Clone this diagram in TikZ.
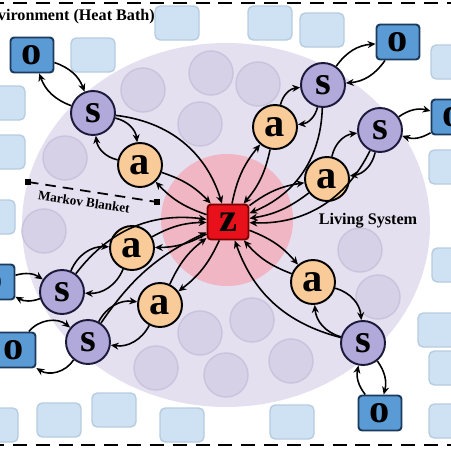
\documentclass[tikz,border=0pt]{standalone}
\usepackage{fontspec}
\setmainfont{Liberation Serif}
\usetikzlibrary{arrows.meta}

\definecolor{sysfill}{HTML}{E4E0F0}
\definecolor{blobfill}{HTML}{D7D1E8}
\definecolor{blobline}{HTML}{CAC3DD}
\definecolor{corefill}{HTML}{F0B6C4}
\definecolor{boxfill}{HTML}{CFE2F3}
\definecolor{boxline}{HTML}{B7CCE0}
\definecolor{sfill}{HTML}{B1A9D9}
\definecolor{sline}{HTML}{1C1A3A}
\definecolor{afill}{HTML}{F9CB98}
\definecolor{ofill}{HTML}{5B9BD5}
\definecolor{oline}{HTML}{1B3A5C}
\definecolor{zfill}{HTML}{E8101A}
\definecolor{zline}{HTML}{7A0000}

\tikzset{
  letter/.style={inner sep=0pt, line width=1.1pt, font=\fontsize{23}{23}\selectfont\bfseries},
  snode/.style={letter, circle, draw=sline, fill=sfill, minimum size=0.88cm},
  anode/.style={letter, circle, draw=black, fill=afill, minimum size=0.88cm},
  onode/.style={letter, rectangle, rounded corners=2pt, draw=oline, fill=ofill, minimum width=0.86cm, minimum height=0.70cm},
  znode/.style={letter, rectangle, rounded corners=2pt, draw=zline, fill=zfill, minimum width=0.82cm, minimum height=0.70cm},
  link/.style={-{Stealth[length=4.5pt,width=4pt]}, line width=0.9pt},
  bgbox/.style={fill=boxfill, draw=boxline, line width=0.8pt, rounded corners=3pt},
  blob/.style={fill=blobfill, draw=blobline, line width=0.8pt},
  frame/.style={dashed, dash pattern=on 8pt off 5pt, line width=1.2pt}
}

\begin{document}
\begin{tikzpicture}[x=0.02cm, y=-0.02cm]
  \useasboundingbox (0,0) rectangle (450,450);

  % Environment boxes
  \foreach \bx/\by in {93/55, 177/23, 270/23, 322/30, 453/62, 451/167, 454/265, 440/330,
      451/368, 451/421, 292/422, 182/425, 114/410, 59/420, -4/425, -7/217, 3/152, 3/103}
    \draw[bgbox] (\bx-22,\by-17) rectangle (\bx+22,\by+17);

  % Living system
  \fill[sysfill] (226,225) ellipse [x radius=204, y radius=182];
  \foreach \cx/\cy in {143/90, 211/73, 258/84, 200/124, 65/158, 44/231, 156/368, 200/333,
      226/375, 252/320, 291/361, 360/250, 378/297}
    \draw[blob] (\cx,\cy) circle [radius=22];
  \fill[corefill] (227,220) circle [radius=66];

  % Frame
  \draw[frame] (-10,3) -- (460,3);
  \draw[frame] (-10,445) -- (460,445);

  % Labels
  \node[anchor=west, font=\fontsize{9.2}{10}\selectfont\bfseries] (envlabel) at (-28,17) {Environment (Heat Bath)};
  \node[font=\fontsize{9.2}{10}\selectfont\bfseries] (livlabel) at (368,221) {Living System};

  % Markov blanket
  \coordinate (mb1) at (28,182);
  \coordinate (mb2) at (157,202);
  \draw[dashed, dash pattern=on 6pt off 4pt, line width=1pt] (mb1) -- (mb2);
  \fill (mb1) ++(-3,-3) rectangle ++(6,6);
  \fill (mb2) ++(-3,-3) rectangle ++(6,6);
  \node[rotate=-8.8, font=\fontsize{7.5}{8}\selectfont\bfseries] (mblabel) at (84,202) {Markov Blanket};

  % Nodes
  \node[znode] (z) at (228,222) {z};

  \node[onode] (o1) at (32,55) {o};
  \node[snode] (s1) at (93,113) {s};
  \node[anode] (a1) at (140,165) {a};

  \node[onode] (o2) at (398,42) {o};
  \node[snode] (s2) at (323,85) {s};
  \node[anode] (a2) at (275,127) {a};

  \node[onode] (o3) at (453,117) {o};
  \node[snode] (s3) at (380,130) {s};
  \node[anode] (a3) at (327,179) {a};

  \node[onode] (o4) at (-7,282) {o};
  \node[snode] (s4) at (62,292) {s};
  \node[anode] (a4) at (132,248) {a};

  \node[onode] (o5) at (14,350) {o};
  \node[snode] (s5) at (88,342) {s};
  \node[anode] (a5) at (160,305) {a};

  \node[anode] (a6) at (313,282) {a};
  \node[snode] (s6) at (363,343) {s};
  \node[onode] (o6) at (380,413) {o};

  % Arrows
  \draw[link] (o1) to[bend left=25] (s1);  \draw[link] (s1) to[bend left=25] (o1);
  \draw[link] (s1) to[bend left=35] (a1);  \draw[link] (a1) to[bend left=35] (s1);
  \draw[link] (a1) to[bend left=14] (z);   \draw[link] (z) to[bend left=14] (a1);
  \draw[link] (s1) to[bend left=33] (z);

  \draw[link] (o2) to[bend left=25] (s2);  \draw[link] (s2) to[bend left=25] (o2);
  \draw[link] (s2) to[bend left=35] (a2);  \draw[link] (a2) to[bend left=35] (s2);
  \draw[link] (a2) to[bend left=14] (z);   \draw[link] (z) to[bend left=14] (a2);
  \draw[link] (s2) to[bend left=33] (z);

  \draw[link] (o3) to[bend left=25] (s3);  \draw[link] (s3) to[bend left=25] (o3);
  \draw[link] (s3) to[bend left=35] (a3);  \draw[link] (a3) to[bend left=35] (s3);
  \draw[link] (a3) to[bend left=14] (z);   \draw[link] (z) to[bend left=14] (a3);
  \draw[link] (s3) to[bend left=33] (z);

  \draw[link] (o4) to[bend left=25] (s4);  \draw[link] (s4) to[bend left=25] (o4);
  \draw[link] (s4) to[bend left=35] (a4);  \draw[link] (a4) to[bend left=35] (s4);
  \draw[link] (a4) to[bend left=14] (z);   \draw[link] (z) to[bend left=14] (a4);
  \draw[link] (s4) to[bend left=30] (z);

  \draw[link] (o5) to[bend left=45] (s5);  \draw[link] (s5) to[bend left=45] (o5);
  \draw[link] (s5) to[bend left=35] (a5);  \draw[link] (a5) to[bend left=35] (s5);
  \draw[link] (a5) to[bend left=14] (z);   \draw[link] (z) to[bend left=14] (a5);
  \draw[link] (s5) to[bend left=15] (z);

  \draw[link] (o6) to[bend left=25] (s6);  \draw[link] (s6) to[bend left=25] (o6);
  \draw[link] (s6) to[bend left=35] (a6);  \draw[link] (a6) to[bend left=35] (s6);
  \draw[link] (a6) to[bend left=14] (z);   \draw[link] (z) to[bend left=14] (a6);
  \draw[link] (s6) to[bend left=28] (z);
\end{tikzpicture}
\end{document}
